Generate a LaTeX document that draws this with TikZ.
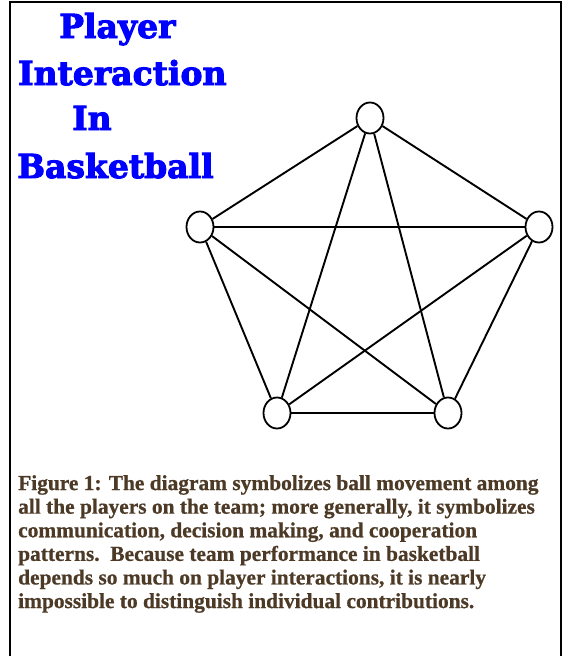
\documentclass[tikz,border=0pt]{standalone}
\usepackage{fontspec}
\setmainfont[BoldFeatures={FakeBold=0.7}]{Liberation Serif}
\newfontfamily\titlefont[FakeBold=3]{DejaVu Serif Bold}
\usepackage{xcolor}
\usetikzlibrary{shapes.geometric}
\definecolor{capbrown}{RGB}{76,58,38}
\definecolor{ttlblue}{RGB}{0,0,255}

\begin{document}
\begin{tikzpicture}[x=1pt,y=-1pt,
  player/.style={draw,ellipse,fill=white,line width=1.8pt,
                 minimum width=27pt,minimum height=31pt,inner sep=0pt},
  pass/.style={line width=1.9pt},
  ttl/.style={anchor=base west,inner sep=0pt,text=ttlblue,
              font=\titlefont\fontsize{33}{33}\selectfont}]
\useasboundingbox (0,0) rectangle (563,656);
\draw[line width=2.4pt] (10,656)--(10,2)--(561,2)--(561,656);
% title
\node[ttl] (t1) at (59,38) {Player};
\node[ttl] (t2) at (18,85) {Interaction};
\node[ttl] (t3) at (72,130) {In};
\node[ttl] (t4) at (17,178) {Basketball};
% players
\node[player] (top) at (370,118) {};
\node[player] (lft) at (200,227) {};
\node[player] (rgt) at (539,227) {};
\node[player] (bl) at (277,413) {};
\node[player] (br) at (448,413) {};
\foreach \a/\b in {top/lft,top/rgt,top/bl,top/br,lft/rgt,lft/bl,lft/br,rgt/bl,rgt/br,bl/br}
  {\draw[pass] (\a)--(\b);}
% caption
\node[anchor=north west,inner sep=0pt,align=left,text=capbrown,
      font=\bfseries\fontsize{21.4}{23.6}\selectfont] (cap) at (18,475)
  {Figure 1: The diagram symbolizes ball movement among\\
   all the players on the team; more generally, it symbolizes\\
   communication, decision making, and cooperation\\
   patterns.\ \ Because team performance in basketball\\
   depends so much on player interactions, it is nearly\\
   impossible to distinguish individual contributions.};
\end{tikzpicture}
\end{document}
